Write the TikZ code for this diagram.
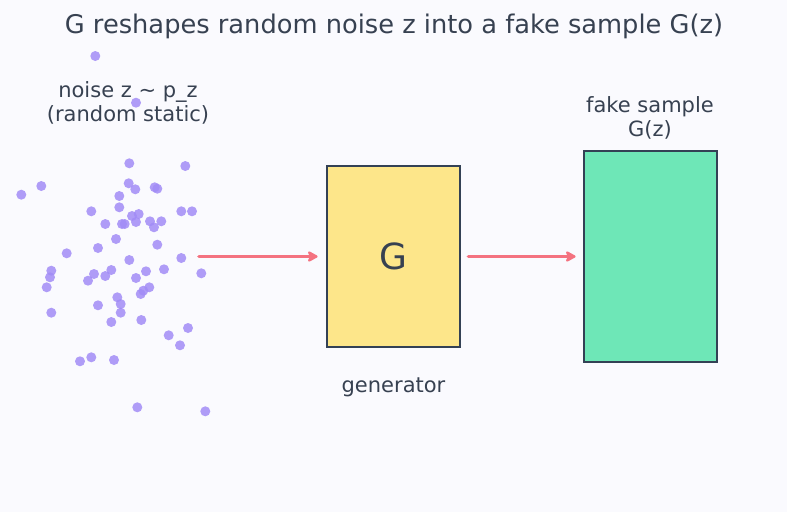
\documentclass[tikz,border=0pt]{standalone}
\usepackage{fontspec}
\setmainfont{DejaVu Sans}
\usetikzlibrary{arrows.meta}
\definecolor{bg}{HTML}{FAFAFE}
\definecolor{ink}{HTML}{374151}
\definecolor{dotc}{HTML}{A28CF6}
\definecolor{gfill}{HTML}{FDE68A}
\definecolor{ffill}{HTML}{6EE7B7}
\definecolor{edge}{HTML}{334155}
\definecolor{arr}{HTML}{F47280}
\tikzset{
  dot/.style={circle, fill=dotc, inner sep=0pt, minimum size=10pt},
  boxy/.style={draw=edge, line width=2.8pt, inner sep=0pt},
  lbl/.style={text=ink, font=\fontsize{21}{24}\selectfont, align=center},
  flow/.style={draw=arr, line width=3.6pt, -{Stealth[length=12pt,width=13pt,inset=3pt,round]}, line cap=round}
}
\begin{document}
\begin{tikzpicture}[x=1pt,y=-1pt]
\fill[bg] (0,0) rectangle (787,512);
\useasboundingbox (0,0) rectangle (787,512);
\node[text=ink, font=\fontsize{25.7}{30}\selectfont] (title) at (394,26) {G reshapes random noise z into a fake sample G(z)};
\foreach \x/\y [count=\i] in {95.3/56,136/102.7,129.3/163.3,185.3/166,41.3/186,21.3/194.7,128.7/183.3,135.3/189.3,154.7/187.3,157.3/188.7,119.3/196,119.3/207.3,91.3/211.3,181.3/211.3,192/211.3,132/216,138.7/214,105.3/224,122/224,124.7/224,136/222,150/221.3,161.3/221.3,154/227.3,116/239,157.3/244.7,98/248,66.7/253.3,129.3/260,181.3/258,201.3/273.3,51.3/270.7,50/277.3,46.7/287.3,94/274,88/280.7,111.3/270,105.3/276,136/278,146/271.3,164/269.3,149.3/287.3,143.3/290.7,140.7/294,117.3/297.3,120.7/304,120.7/312.7,98/305.3,51.3/312.7,111.3/322,141.3/320,168.7/335.3,188/328,180/345.3,80/361.3,91.3/357.3,114/360,137.3/407.3,205.3/411.3}
  \node[dot, opacity=0.85] (d\i) at (\x,\y) {};
\node[lbl] (noise) at (128,103) {noise z \textasciitilde{} p\_z\\(random static)};
\coordinate (src) at (199,256.5);
\node[boxy, fill=gfill, minimum width=133pt, minimum height=181pt] (G) at (393.5,256.5) {};
\node[text=ink, font=\fontsize{36}{40}\selectfont] (Gl) at (G.center) {G};
\node[lbl] (gen) at (393.5,387) {generator};
\node[boxy, fill=ffill, minimum width=133pt, minimum height=211pt] (F) at (650.5,256.5) {};
\node[lbl] (fake) at (650,118) {fake sample\\G(z)};
\draw[flow] (src) -- ([xshift=-8pt]G.west);
\draw[flow] ([xshift=7pt]G.east) -- ([xshift=-7pt]F.west);
\end{tikzpicture}
\end{document}
